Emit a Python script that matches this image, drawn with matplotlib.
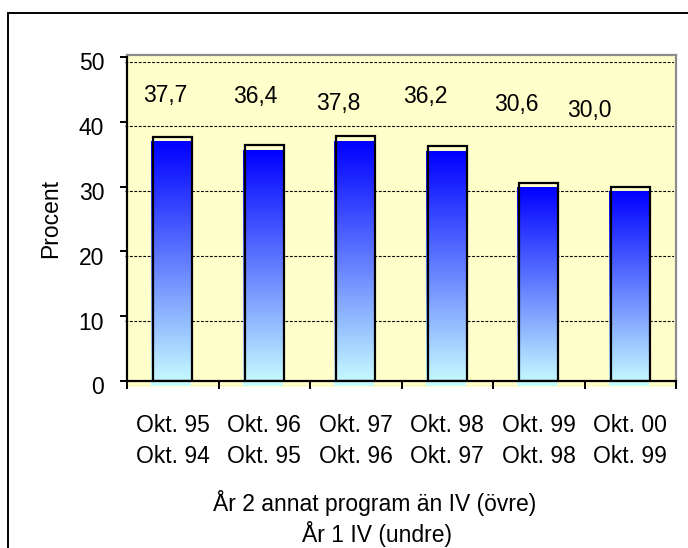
import numpy as np
import matplotlib
matplotlib.use("Agg")
import matplotlib.pyplot as plt
from matplotlib.patches import Rectangle
from matplotlib.colors import LinearSegmentedColormap

plt.rcParams['font.family'] = ['Liberation Sans', 'DejaVu Sans']

# ---- data ----
periods_upper = ["Okt. 95", "Okt. 96", "Okt. 97", "Okt. 98", "Okt. 99", "Okt. 00"]
periods_lower = ["Okt. 94", "Okt. 95", "Okt. 96", "Okt. 97", "Okt. 98", "Okt. 99"]
values = [37.7, 36.4, 37.8, 36.2, 30.6, 30.0]
y_ticks = [0, 10, 20, 30, 40, 50]

# ---- layout (pixels) ----
W, H = 688, 548
FS = 16.5
label_dx_px = [-8, -9, -17, -22, -22, -41]   # manual nudges of the value labels
label_y = [44.0, 43.9, 42.75, 43.9, 42.6, 41.7]

fig = plt.figure(figsize=(W / 100, H / 100), dpi=100)


def px_rect(x0, y0, x1, y1):
    return [x0 / W, 1 - y1 / H, (x1 - x0) / W, (y1 - y0) / H]


x = np.arange(len(values))
bar_w = 0.43
xlim = (-0.5, len(values) - 0.5)
ylim = (0, 50)

# plot area background (wall)
bg = fig.add_axes(px_rect(127, 55, 676, 387))
bg.set_facecolor("#FFFFCC")
bg.set_xticks([])
bg.set_yticks([])
for side in ("left", "bottom"):
    bg.spines[side].set_visible(False)
for side in ("top", "right"):
    bg.spines[side].set_color("#8c8c8c")
    bg.spines[side].set_linewidth(1.6)

# back plane: gridlines, gradient columns, value axis labels
back = fig.add_axes(px_rect(125, 61.5, 674, 385.5))
back.patch.set_visible(False)
for s in back.spines.values():
    s.set_visible(False)
back.set_xlim(*xlim)
back.set_ylim(*ylim)
back.set_xticks([])
back.set_yticks(y_ticks)
back.set_yticklabels([str(t) for t in y_ticks])
back.tick_params(axis="y", length=0, pad=15, labelsize=FS)
back.yaxis.grid(True, color="black", linestyle=(0, (2.5, 1.5)), linewidth=0.8)
back.set_axisbelow(True)

cmap = LinearSegmentedColormap.from_list("col", ["#C8FFFF", "#0000FF"])
grad = np.linspace(0, 1, 256).reshape(-1, 1)
for xi, v in zip(x, values):
    back.imshow(grad, cmap=cmap, origin="lower", aspect="auto",
                extent=(xi - bar_w / 2, xi + bar_w / 2, 0, v),
                interpolation="bilinear", zorder=2)
back.set_xlim(*xlim)
back.set_ylim(*ylim)

# front plane: axis lines, ticks, column outlines, category labels
front = fig.add_axes(px_rect(127, 57, 676, 381))
front.patch.set_visible(False)
front.set_xlim(*xlim)
front.set_ylim(*ylim)
front.spines["top"].set_visible(False)
front.spines["right"].set_visible(False)
for side in ("left", "bottom"):
    front.spines[side].set_linewidth(1.6)
front.bar(x, values, width=bar_w, facecolor="none", edgecolor="black",
          linewidth=1.6, zorder=3)
front.set_yticks(y_ticks)
front.set_yticklabels([])
front.tick_params(axis="y", direction="out", length=5, width=1.4)
front.set_xticks(np.arange(len(values) + 1) - 0.5)
front.set_xticklabels([])
front.tick_params(axis="x", which="major", direction="out", length=5.5, width=1.4)
front.set_xticks(x, minor=True)
front.set_xticklabels([f"{u}\n{l}" for u, l in zip(periods_upper, periods_lower)],
                      minor=True, linespacing=1.45)
front.tick_params(axis="x", which="minor", length=0, pad=24, labelsize=FS)

for xi, v, dx, ly in zip(x, values, label_dx_px, label_y):
    front.annotate(f"{v:.1f}".replace(".", ","), xy=(xi, ly), xytext=(dx * 0.72, 0),
                   textcoords="offset points", ha="center", va="center",
                   fontsize=FS, annotation_clip=False)

# axis titles
fig.text(51 / W, 1 - 219 / H, "Procent", rotation=90, ha="center", va="center",
         fontsize=FS)
fig.text(375 / W, 1 - 510.7 / H, "År 2 annat program än IV (övre)",
         ha="center", va="baseline", fontsize=FS)
fig.text(377 / W, 1 - 541.7 / H, "År 1 IV (undre)",
         ha="center", va="baseline", fontsize=FS)

# chart frame
fig.patches.append(Rectangle((8 / W, -0.1), 1.2, (H - 13) / H + 0.1,
                             transform=fig.transFigure, fill=False,
                             edgecolor="black", linewidth=1.4))

fig.savefig("out.png", dpi=100)
